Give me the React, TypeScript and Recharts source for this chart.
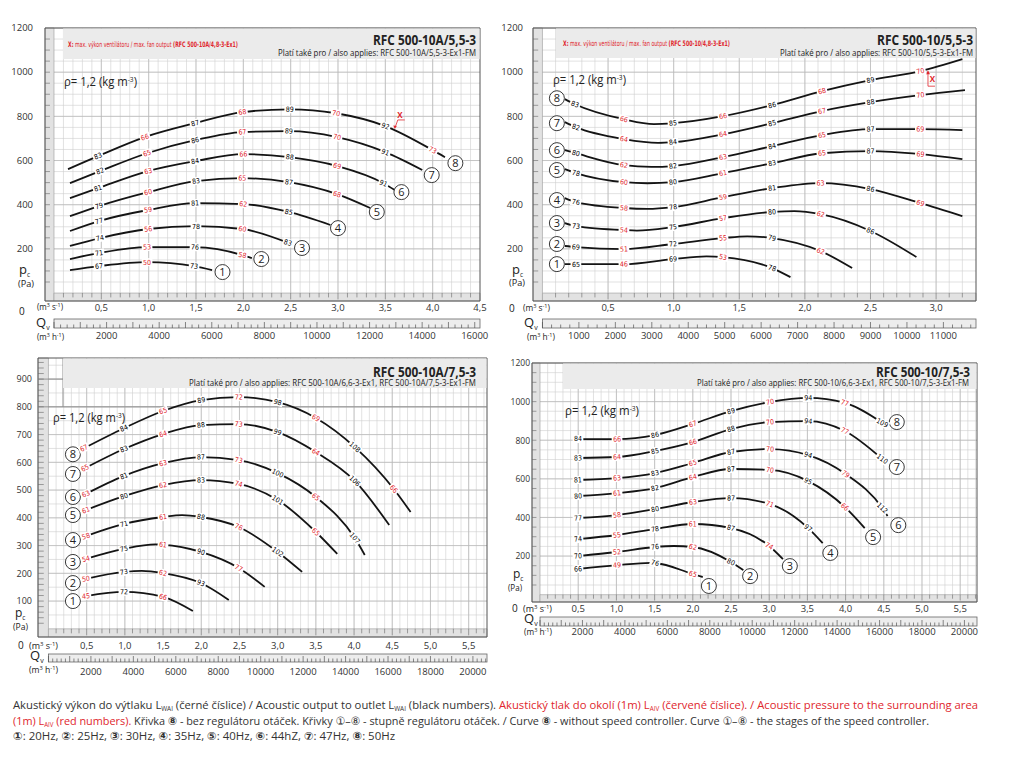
import React from 'react';
import {
  ComposedChart,
  Line,
  XAxis,
  YAxis,
  CartesianGrid,
  ReferenceArea,
  ReferenceLine,
  ReferenceDot,
} from 'recharts';

type Raw = [number, number, string?, string?];
type Pt = { q: number; p: number; t?: string; c?: string };
const r = 'r';

/* ---------------- Panel A : RFC 500-10A/5,5-3 ---------------- */
const xTicksA = [0.5, 1, 1.5, 2, 2.5, 3, 3.5, 4, 4.5];
const yTicksA = [200, 400, 600, 800, 1000, 1200];
const hLabelsA = [2000, 4000, 6000, 8000, 10000, 12000, 14000, 16000];
const a8: Raw[] = [[0.148, 561], [0.465, 620, '83'], [0.96, 706, '66', r], [1.49, 769, '87'], [1.99, 819, '68', r], [2.49, 832, '89'], [2.98, 814, '70', r], [3.5, 756, '92'], [4.0, 647, '73', r], [4.13, 615]];
const a7: Raw[] = [[0.169, 498], [0.486, 552, '82'], [0.983, 633, '65', r], [1.49, 692, '86'], [1.99, 729, '67', r], [2.48, 733, '89'], [2.99, 706, '70', r], [3.5, 638, '91'], [3.89, 557]];
const a6: Raw[] = [[0.169, 430], [0.465, 475, '81'], [0.994, 552, '63', r], [1.49, 597, '84'], [2.0, 629, '66', r], [2.49, 615, '88'], [2.99, 575, '69', r], [3.48, 497, '91'], [3.6, 466]];
const a5: Raw[] = [[0.169, 348], [0.476, 394, '79'], [0.994, 457, '60', r], [1.5, 507, '83'], [1.99, 520, '65', r], [2.48, 502, '87'], [2.99, 448, '68', r], [3.34, 385]];
const a4: Raw[] = [[0.169, 281], [0.476, 326, '77'], [0.994, 376, '59', r], [1.49, 407, '81'], [2.0, 403, '62', r], [2.48, 367, '85'], [2.92, 308]];
const a3: Raw[] = [[0.169, 213], [0.486, 249, '74'], [0.994, 290, '56', r], [1.5, 303, '78'], [1.99, 290, '60', r], [2.47, 228, '83']];
const a2: Raw[] = [[0.169, 154], [0.476, 181, '71'], [0.983, 208, '53', r], [1.49, 208, '76'], [1.99, 172, '58', r], [2.09, 158]];
const a1: Raw[] = [[0.169, 104], [0.476, 122, '67'], [0.983, 140, '50', r], [1.48, 122, '73'], [1.67, 104]];
const circlesA: [string, number, number][] = [['8', 4.24, 588], ['7', 3.99, 534], ['6', 3.67, 457], ['5', 3.41, 367], ['4', 3.0, 294], ['3', 2.62, 204], ['2', 2.19, 154], ['1', 1.78, 95]];
const xMarkA: [number, number] = [3.6, 743];

/* ---------------- Panel B : RFC 500-10/5,5-3 ---------------- */
const xTicksB = [0.5, 1, 1.5, 2, 2.5, 3];
const yTicksB = [200, 400, 600, 800, 1000, 1200];
const hLabelsB = [1000, 2000, 3000, 4000, 5000, 6000, 7000, 8000, 9000, 10000, 11000];
const b8: Raw[] = [[0.171, 878], [0.248, 855, '83'], [0.621, 787, '66', r], [0.85, 765], [0.995, 769, '85'], [1.376, 801, '66', r], [1.75, 851, '86'], [2.13, 914, '68', r], [2.5, 964, '89'], [2.88, 1005, '70', r], [3.2, 1059]];
const b7: Raw[] = [[0.171, 774], [0.255, 751, '82'], [0.621, 697, '64', r], [0.88, 680], [0.995, 683, '84'], [1.376, 719, '64', r], [1.75, 769, '85'], [2.13, 824, '67', r], [2.5, 864, '88'], [2.88, 896, '70', r], [3.22, 919]];
const b6: Raw[] = [[0.171, 647], [0.255, 633, '80'], [0.621, 579, '62', r], [0.83, 571], [0.995, 575, '82'], [1.376, 615, '63', r], [1.75, 665, '84'], [2.13, 715, '65', r], [2.5, 742, '87'], [2.88, 742, '69', r], [3.2, 738]];
const b5: Raw[] = [[0.171, 561], [0.255, 543, '78'], [0.621, 502, '60', r], [0.8, 497], [0.995, 502, '80'], [1.376, 543, '61', r], [1.75, 588, '83'], [2.13, 633, '65', r], [2.5, 643, '87'], [2.88, 629, '69', r], [3.2, 606]];
const b4: Raw[] = [[0.171, 430], [0.255, 412, '76'], [0.621, 385, '58', r], [0.8, 381], [0.995, 389, '78'], [1.376, 434, '59', r], [1.75, 475, '81'], [2.12, 498, '63', r], [2.5, 471, '86'], [2.88, 407, '69', r], [3.2, 348]];
const b3: Raw[] = [[0.171, 317], [0.255, 303, '73'], [0.621, 285, '54', r], [0.72, 283], [0.995, 299, '75'], [1.376, 339, '57', r], [1.75, 367, '80'], [1.92, 371], [2.12, 357, '62', r], [2.5, 281, '86'], [2.85, 163]];
const b2: Raw[] = [[0.171, 213], [0.255, 208, '69'], [0.621, 199, '51', r], [0.995, 222, '72'], [1.376, 249, '55', r], [1.56, 257], [1.75, 249, '79'], [2.12, 190, '62', r], [2.36, 113]];
const b1: Raw[] = [[0.171, 131], [0.255, 131, '65'], [0.621, 131, '46', r], [0.995, 154, '69'], [1.25, 166], [1.376, 163, '53', r], [1.75, 113, '78'], [1.89, 72]];
const circlesB: [string, number, number][] = [['8', 0.11, 882], ['7', 0.11, 769], ['6', 0.11, 647], ['5', 0.11, 557], ['4', 0.11, 421], ['3', 0.11, 317], ['2', 0.11, 222], ['1', 0.11, 131]];
const xMarkB: [number, number] = [2.938, 1009];

/* ---------------- Panel C : RFC 500-10A/7,5-3 ---------------- */
const xTicksC = [0.5, 1, 1.5, 2, 2.5, 3, 3.5, 4, 4.5, 5, 5.5];
const yTicksC = [100, 200, 300, 400, 500, 600, 700, 800, 900];
const hLabelsC = [2000, 4000, 6000, 8000, 10000, 12000, 14000, 16000, 18000, 20000];
const c8: Raw[] = [[0.465, 651, '67', r], [0.988, 723, '84'], [1.5, 785, '65', r], [2.0, 824, '89'], [2.49, 835, '72', r], [3.0, 817, '98'], [3.5, 760, '69', r], [4.01, 655, '108'], [4.52, 504, '66', r], [4.74, 421]];
const c7: Raw[] = [[0.478, 579, '65', r], [0.988, 648, '83'], [1.499, 702, '64', r], [1.996, 734, '88'], [2.49, 738, '73', r], [3.0, 709, '99'], [3.5, 637, '64', r], [4.01, 533, '106'], [4.46, 374]];
const c6: Raw[] = [[0.49, 486, '63', r], [0.988, 551, '81'], [1.499, 597, '63', r], [1.996, 619, '87'], [2.49, 608, '73', r], [3.0, 561, '100'], [3.5, 475, '65', r], [4.01, 327, '107'], [4.14, 266]];
const c5: Raw[] = [[0.49, 428, '61', r], [0.988, 478, '80'], [1.499, 518, '62', r], [1.996, 536, '83'], [2.49, 522, '74', r], [3.0, 464, '101'], [3.5, 349, '65', r], [3.78, 270]];
const c4: Raw[] = [[0.49, 334, '58', r], [0.988, 378, '71'], [1.499, 403, '61', r], [1.75, 410], [1.996, 403, '88'], [2.49, 367, '76', r], [3.0, 277, '102'], [3.32, 205]];
const c3: Raw[] = [[0.49, 252, '54', r], [0.988, 288, '75'], [1.4, 304], [1.499, 303, '61', r], [1.996, 277, '90'], [2.49, 219, '77', r], [2.83, 151]];
const c2: Raw[] = [[0.49, 180, '50', r], [0.988, 205, '73'], [1.22, 209], [1.499, 201, '62', r], [1.996, 165, '93'], [2.36, 104]];
const c1: Raw[] = [[0.49, 118, '45', r], [0.988, 133, '72'], [1.499, 115, '66', r], [1.89, 64]];
const circlesC: [string, number, number][] = [['8', 0.32, 629], ['7', 0.32, 558], ['6', 0.32, 475], ['5', 0.32, 410], ['4', 0.32, 320], ['3', 0.32, 241], ['2', 0.32, 165], ['1', 0.32, 100]];

/* ---------------- Panel D : RFC 500-10/7,5-3 ---------------- */
const xTicksD = [0.5, 1, 1.5, 2, 2.5, 3, 3.5, 4, 4.5, 5, 5.5];
const yTicksD = [200, 400, 600, 800, 1000, 1200];
const hLabelsD = [2000, 4000, 6000, 8000, 10000, 12000, 14000, 16000, 18000, 20000];
const d8: Raw[] = [[0.497, 806, '84'], [1.008, 806, '66', r], [1.505, 827, '86'], [2.0, 884, '67', r], [2.5, 951, '89'], [3.01, 998, '70', r], [3.51, 1019, '94'], [3.99, 993, '77', r], [4.48, 890, '109']];
const d7: Raw[] = [[0.497, 708, '83'], [1.008, 713, '64', r], [1.505, 744, '85'], [2.0, 790, '66', r], [2.5, 858, '88'], [3.01, 894, '70', r], [3.51, 899, '94'], [3.99, 848, '77', r], [4.48, 703, '110']];
const d6: Raw[] = [[0.497, 594, '81'], [1.008, 604, '63', r], [1.505, 630, '83'], [2.0, 682, '65', r], [2.5, 739, '87'], [3.01, 754, '70', r], [3.51, 723, '94'], [4.0, 625, '79', r], [4.48, 449, '112'], [4.55, 407]];
const d5: Raw[] = [[0.497, 511, '80'], [1.008, 526, '61', r], [1.505, 552, '82'], [2.0, 609, '64', r], [2.5, 651, '87'], [3.01, 646, '70', r], [3.51, 588, '95'], [3.99, 454, '66', r], [4.25, 345]];
const d4: Raw[] = [[0.497, 397, '77'], [1.008, 412, '58', r], [1.505, 443, '80'], [2.0, 480, '63', r], [2.5, 500, '87'], [3.01, 469, '71', r], [3.51, 345, '97'], [3.7, 267]];
const d3: Raw[] = [[0.497, 288, '74'], [1.008, 309, '55', r], [1.505, 340, '78'], [2.0, 366, '61', r], [2.5, 345, '87'], [3.0, 252, '74', r], [3.18, 184]];
const d2: Raw[] = [[0.497, 200, '70'], [1.008, 221, '52', r], [1.505, 247, '76'], [1.75, 252], [2.0, 247, '62', r], [2.5, 169, '80'], [2.66, 127]];
const d1: Raw[] = [[0.497, 133, '66'], [1.008, 153, '49', r], [1.45, 165], [1.505, 164, '76'], [2.0, 107, '65', r], [2.13, 91]];
const circlesD: [string, number, number][] = [['8', 4.67, 894], ['7', 4.67, 661], ['6', 4.69, 360], ['5', 4.36, 298], ['4', 3.8, 216], ['3', 3.27, 148], ['2', 2.75, 96], ['1', 2.21, 45]];

/* ---------------- texts ---------------- */
const titles = ['RFC 500-10A/5,5-3', 'RFC 500-10/5,5-3', 'RFC 500-10A/7,5-3', 'RFC 500-10/7,5-3'];
const subtitles = [
  'Platí také pro / also applies: RFC 500-10A/5,5-3-Ex1-FM',
  'Platí také pro / also applies: RFC 500-10/5,5-3-Ex1-FM',
  'Platí také pro / also applies: RFC 500-10A/6,6-3-Ex1, RFC 500-10A/7,5-3-Ex1-FM',
  'Platí také pro / also applies: RFC 500-10/6,6-3-Ex1, RFC 500-10/7,5-3-Ex1-FM',
];
const notesModel = ['(RFC 500-10A/4,8-3-Ex1)', '(RFC 500-10/4,8-3-Ex1)'];

/* ---------------- layout (positions, not data) ---------------- */
const RED = '#e0262d';
const INK = '#141414';
const FONT = '"Open Sans", "DejaVu Sans", sans-serif';
const NARROW = '"Liberation Sans Narrow", "DejaVu Sans Condensed", "Open Sans", sans-serif';

type Lay = {
  left: number; top: number; w: number; h: number; mTop: number;
  plotL: number; plotR: number; plotT: number; plotB: number;
  xmin: number; xmax: number; ymin: number; ymax: number;
  mainH: number; hH: number; mainDy: number; hsTop: number; hsH: number; hlDy: number;
  hStep: number; hMajor: number; gridY: number; stripY: number; yDx: number; yFs: number;
};

const LA: Lay = { left: 0, top: 0, w: 500, h: 347, mTop: 28, plotL: 45, plotR: 480, plotT: 28, plotB: 301, xmin: -0.095, xmax: 4.5, ymin: -36, ymax: 1200, mainH: 12, hH: 34, mainDy: 9.5, hsTop: 6, hsH: 9, hlDy: 26, hStep: 250, hMajor: 1000, gridY: 50, stripY: 50, yDx: -12, yFs: 9.5 };
const LB: Lay = { left: 490, top: 0, w: 506, h: 347, mTop: 28, plotL: 533, plotR: 976, plotT: 28, plotB: 301, xmin: -0.072, xmax: 3.304, ymin: -36, ymax: 1200, mainH: 12, hH: 34, mainDy: 9.5, hsTop: 6, hsH: 9, hlDy: 26, hStep: 250, hMajor: 1000, gridY: 50, stripY: 50, yDx: -10, yFs: 9.5 };
const LC: Lay = { left: 0, top: 330, w: 507, h: 349, mTop: 28, plotL: 38, plotR: 487, plotT: 358, plotB: 637, xmin: -0.137, xmax: 5.74, ymin: -29.5, ymax: 976, mainH: 12, hH: 30, mainDy: 11.5, hsTop: 5, hsH: 8, hlDy: 26, hStep: 200, hMajor: 1000, gridY: 50, stripY: 20, yDx: -6, yFs: 9 };
const LD: Lay = { left: 490, top: 335, w: 507, h: 309, mTop: 28, plotL: 532, plotR: 977, plotT: 363, plotB: 602, xmin: -0.105, xmax: 5.72, ymin: -38, ymax: 1200, mainH: 12, hH: 30, mainDy: 9.5, hsTop: 3, hsH: 9, hlDy: 21, hStep: 200, hMajor: 1000, gridY: 50, stripY: 50, yDx: -2, yFs: 8.5 };

const toPts = (raw: Raw[]): Pt[] => raw.map(([q, p, t, c]) => ({ q, p, t, c }));
const range = (a: number, b: number, s: number) => {
  const out: number[] = [];
  for (let i = 0; a + i * s <= b + 1e-9; i++) out.push(Math.round((a + i * s) * 1000) / 1000);
  return out;
};
const fmtQ = (v: number) => v.toFixed(1).replace('.', ',');

function mkLabel(pts: Pt[], kx: number, ky: number) {
  return (props: any) => {
    const i: number = props.index;
    const pt = pts[i];
    if (!pt || !pt.t) return null;
    const x = props.x ?? props.viewBox?.x;
    const y = props.y ?? props.viewBox?.y;
    if (x == null || y == null) return null;
    const a = pts[Math.max(0, i - 1)];
    const b = pts[Math.min(pts.length - 1, i + 1)];
    const ang = (Math.atan2(-(b.p - a.p) * ky, (b.q - a.q) * kx) * 180) / Math.PI;
    const w = pt.t.length * 3.6 + 3.5;
    return (
      <g key={`lb${i}`} transform={`translate(${x},${y}) rotate(${ang.toFixed(1)})`}>
        <rect x={-w / 2} y={-4} width={w} height={8} fill="#fff" />
        <text x={0} y={2.4} textAnchor="middle" fontSize={7} fontFamily={NARROW} fill={pt.c === 'r' ? RED : '#000'} stroke="none">
          {pt.t}
        </text>
      </g>
    );
  };
}

const circleShape = (num: string) => (props: any) => (
  <g>
    <circle cx={props.cx} cy={props.cy} r={7.5} fill="#fff" stroke="#222" strokeWidth={0.9} />
    <text x={props.cx} y={props.cy + 4} textAnchor="middle" fontSize={11} fontFamily={FONT} fill="#222">
      {num}
    </text>
  </g>
);

const xShapeA = (props: any) => {
  const { cx, cy } = props;
  return (
    <g>
      <text x={cx + 5} y={cy - 11} textAnchor="middle" fontSize={8} fontWeight="bold" fontFamily={FONT} fill={RED}>X</text>
      <path d={`M${cx + 10},${cy - 9} L${cx + 3},${cy - 9} L${cx + 0.5},${cy - 2}`} fill="none" stroke={RED} strokeWidth={0.8} />
      <path d={`M${cx},${cy} L${cx - 1.5},${cy - 3.5} L${cx + 2},${cy - 3}Z`} fill={RED} />
    </g>
  );
};
const xShapeB = (props: any) => {
  const { cx, cy } = props;
  return (
    <g>
      <text x={cx + 4.5} y={cy + 12} textAnchor="middle" fontSize={8} fontWeight="bold" fontFamily={FONT} fill={RED}>X</text>
      <path d={`M${cx},${cy + 2} L${cx},${cy + 16} L${cx + 7},${cy + 16}`} fill="none" stroke={RED} strokeWidth={0.8} />
      <path d={`M${cx},${cy} L${cx - 2},${cy + 4} L${cx + 2},${cy + 4}Z`} fill={RED} />
    </g>
  );
};

type PanelProps = {
  L: Lay;
  curves: Raw[][];
  circles: [string, number, number][];
  xTicks: number[];
  yTicks: number[];
  hLabels: number[];
  xMark?: [number, number];
  xShape?: (p: any) => any;
  boxC?: boolean;
};

function Panel({ L, curves, circles, xTicks, yTicks, hLabels, xMark, xShape, boxC }: PanelProps) {
  const kx = (L.plotR - L.plotL) / (L.xmax - L.xmin);
  const ky = (L.plotB - L.plotT) / (L.ymax - L.ymin);
  const vMinor = range(0.1, L.xmax - 0.01, 0.1);
  const vMajor = range(0.5, L.xmax - 0.01, 0.5);
  const hMinor = range(L.gridY, L.ymax - 1, L.gridY);
  const hMax = Math.floor((L.xmax * 3600) / L.hStep) * L.hStep;
  const hTicks = range(0, hMax, L.hStep);
  const leftTicks = range(L.stripY, L.ymax - 1, L.stripY);
  const botTicks = vMinor;
  const ptsList = curves.map(toPts);
  const yW = L.plotL - L.left;
  const mRight = L.left + L.w - L.plotR;
  // invisible helper series so the m³/h axis is bound to something
  const hHelper = [{ h: 0, p: L.ymin }, { h: hMax, p: L.ymin }];
  const boxX = 0.19;

  return (
    <div style={{ position: 'absolute', left: L.left, top: L.top }}>
      <ComposedChart width={L.w} height={L.h} margin={{ top: L.mTop, right: mRight, bottom: 0, left: 0 }}>
        <CartesianGrid xAxisId="a" verticalValues={vMinor} horizontalValues={hMinor} stroke="#cfcfcf" strokeWidth={0.6} />
        <CartesianGrid xAxisId="a" verticalValues={vMajor} horizontalValues={yTicks} stroke="#b8b8b8" strokeWidth={0.7} />
        <XAxis
          xAxisId="a"
          type="number"
          dataKey="q"
          domain={[L.xmin, L.xmax]}
          allowDataOverflow
          ticks={xTicks}
          interval={0}
          height={L.mainH}
          tickSize={0}
          tickMargin={0}
          axisLine={false}
          tickLine={false}
          tick={(p: any) => (
            <text x={p.x} y={p.y + L.mainDy} textAnchor="middle" fontSize={9.5} fontFamily={FONT} fill="#333">
              {fmtQ(p.payload.value)}
            </text>
          )}
        />
        <XAxis
          xAxisId="b"
          type="number"
          dataKey="h"
          domain={[L.xmin * 3600, L.xmax * 3600]}
          allowDataOverflow
          ticks={hTicks}
          interval={0}
          height={L.hH}
          tickSize={0}
          tickMargin={0}
          axisLine={false}
          tickLine={false}
          tick={(p: any) => {
            const v = p.payload.value;
            const yb = p.y + L.hsTop + L.hsH;
            const major = v % L.hMajor === 0;
            return (
              <g>
                <line x1={p.x} x2={p.x} y1={yb} y2={yb - (major ? 6 : 3.5)} stroke="#555" strokeWidth={0.7} />
                {hLabels.includes(v) ? (
                  <text x={p.x} y={p.y + L.hlDy} textAnchor="middle" fontSize={9.5} fontFamily={FONT} fill="#333">
                    {v}
                  </text>
                ) : null}
              </g>
            );
          }}
        />
        <YAxis
          type="number"
          domain={[L.ymin, L.ymax]}
          allowDataOverflow
          ticks={yTicks}
          interval={0}
          width={yW}
          tickSize={0}
          tickMargin={0}
          axisLine={false}
          tickLine={false}
          tick={(p: any) => (
            <text x={p.x + L.yDx} y={p.y + 3.3} textAnchor="end" fontSize={L.yFs} fontFamily={FONT} fill="#333">
              {p.payload.value}
            </text>
          )}
        />
        {boxC ? <ReferenceLine xAxisId="a" y={800} stroke="#8a8a8a" strokeWidth={0.9} /> : null}
        {boxC ? <ReferenceLine xAxisId="a" segment={[{ x: boxX, y: 800 }, { x: boxX, y: L.ymax }]} stroke="#8a8a8a" strokeWidth={0.9} /> : null}
        {boxC ? <ReferenceLine xAxisId="a" segment={[{ x: L.xmin, y: 900 }, { x: boxX, y: 900 }]} stroke="#8a8a8a" strokeWidth={0.9} /> : null}
        <ReferenceArea xAxisId="a" x1={L.xmin} x2={0} y1={L.ymin} y2={L.ymax} fill="#e2e2e2" fillOpacity={1} stroke="#9a9a9a" strokeWidth={0.6} />
        <ReferenceArea xAxisId="a" x1={0} x2={L.xmax} y1={L.ymin} y2={0} fill="#e2e2e2" fillOpacity={1} stroke="#9a9a9a" strokeWidth={0.6} />
        {leftTicks.map((v) => (
          <ReferenceLine key={`lt${v}`} xAxisId="a" segment={[{ x: L.xmin, y: v }, { x: L.xmin * 0.45, y: v }]} stroke="#666" strokeWidth={0.6} />
        ))}
        {botTicks.map((v) => (
          <ReferenceLine
            key={`bt${v}`}
            xAxisId="a"
            segment={[{ x: v, y: 0 }, { x: v, y: L.ymin * (Math.abs((v * 2) % 1) < 0.01 ? 0.8 : 0.55) }]}
            stroke="#666"
            strokeWidth={0.6}
          />
        ))}
        <ReferenceArea xAxisId="a" x1={L.xmin} x2={L.xmax} y1={L.ymin} y2={L.ymax} fill="none" stroke="#555" strokeWidth={1} />
        <Line xAxisId="b" data={hHelper} dataKey="p" stroke="none" strokeWidth={0} dot={false} activeDot={false} isAnimationActive={false} legendType="none" />
        {ptsList.map((pts, i) => (
          <Line
            key={`c${i}`}
            xAxisId="a"
            data={pts}
            dataKey="p"
            type="monotone"
            stroke={INK}
            strokeWidth={1.8}
            dot={false}
            activeDot={false}
            isAnimationActive={false}
            label={mkLabel(pts, kx, ky)}
          />
        ))}
        {circles.map(([n, q, p]) => (
          <ReferenceDot key={`o${n}`} xAxisId="a" x={q} y={p} r={7.5} shape={circleShape(n)} />
        ))}
        {xMark && xShape ? <ReferenceDot xAxisId="a" x={xMark[0]} y={xMark[1]} r={2} shape={xShape} /> : null}
      </ComposedChart>
    </div>
  );
}

/* ---------- helpers for overlay text ---------- */
const T = ({ x, y, w, fs, children, bold, fill, family }: any) => (
  <text
    x={x}
    y={y}
    fontSize={fs}
    fontWeight={bold ? 'bold' : 'normal'}
    fill={fill || '#222'}
    fontFamily={family || FONT}
    textLength={w}
    lengthAdjust="spacingAndGlyphs"
  >
    {children}
  </text>
);

const Rho = ({ x, y, w }: any) => (
  <T x={x} y={y} w={w} fs={12}>
    ρ= 1,2 (kg m<tspan dy={-4} fontSize={7}>-3</tspan>
    <tspan dy={4}>)</tspan>
  </T>
);

const AxisTexts = ({ zx, zy, ms, q, mh, pc, pa, pfs }: any) => (
  <g fontFamily={FONT} fill="#222">
    <text x={zx} y={zy} fontSize={10}>0</text>
    <T x={ms[0]} y={ms[1]} w={ms[2]} fs={9}>
      (m<tspan dy={-3} fontSize={6}>3</tspan>
      <tspan dy={3}> s</tspan>
      <tspan dy={-3} fontSize={6}>-1</tspan>
      <tspan dy={3}>)</tspan>
    </T>
    <text x={q[0]} y={q[1]} fontSize={13}>
      Q<tspan dy={3} fontSize={7}>v</tspan>
    </text>
    <T x={mh[0]} y={mh[1]} w={mh[2]} fs={9}>
      (m<tspan dy={-3} fontSize={6}>3</tspan>
      <tspan dy={3}> h</tspan>
      <tspan dy={-3} fontSize={6}>-1</tspan>
      <tspan dy={3}>)</tspan>
    </T>
    <text x={pc[0]} y={pc[1]} fontSize={pfs || 13}>
      p<tspan dy={2.5} fontSize={6.5}>c</tspan>
    </text>
    <T x={pa[0]} y={pa[1]} w={pa[2]} fs={8.5}>(Pa)</T>
  </g>
);

function stripRect(L: Lay) {
  const kx = (L.plotR - L.plotL) / (L.xmax - L.xmin);
  const x0 = L.plotL + (0 - L.xmin) * kx;
  const y0 = L.plotB + L.mainH + L.hsTop;
  return <rect x={x0} y={y0} width={L.plotR - x0} height={L.hsH} fill="#ededed" stroke="#666" strokeWidth={0.8} />;
}

function band(L: Lay, x1: number, y2: number) {
  return <rect x={x1} y={L.plotT + 0.5} width={L.plotR - 0.5 - x1} height={y2 - L.plotT - 0.5} fill="#ebebeb" />;
}

export default function App() {
  return (
    <div style={{ position: 'absolute', left: 0, top: 0, width: 1024, height: 768, background: '#fff', overflow: 'hidden' }}>
      <svg width={1024} height={768} style={{ position: 'absolute', left: 0, top: 0 }}>
        {stripRect(LA)}
        {stripRect(LB)}
        {stripRect(LC)}
        {stripRect(LD)}
      </svg>

      <Panel L={LA} curves={[a1, a2, a3, a4, a5, a6, a7, a8]} circles={circlesA} xTicks={xTicksA} yTicks={yTicksA} hLabels={hLabelsA} xMark={xMarkA} xShape={xShapeA} />
      <Panel L={LB} curves={[b1, b2, b3, b4, b5, b6, b7, b8]} circles={circlesB} xTicks={xTicksB} yTicks={yTicksB} hLabels={hLabelsB} xMark={xMarkB} xShape={xShapeB} />
      <Panel L={LC} curves={[c1, c2, c3, c4, c5, c6, c7, c8]} circles={circlesC} xTicks={xTicksC} yTicks={yTicksC} hLabels={hLabelsC} boxC />
      <Panel L={LD} curves={[d1, d2, d3, d4, d5, d6, d7, d8]} circles={circlesD} xTicks={xTicksD} yTicks={yTicksD} hLabels={hLabelsD} />

      <svg width={1024} height={768} style={{ position: 'absolute', left: 0, top: 0, pointerEvents: 'none' }}>
        {band(LA, 63, 59)}
        {band(LB, 556, 58)}
        {band(LC, 63, 388)}
        {band(LD, 563, 389)}

        <T x={373} y={44.5} w={103} fs={14} bold>{titles[0]}</T>
        <T x={278} y={55.5} w={198} fs={9.5}>{subtitles[0]}</T>
        <T x={68} y={47} w={170} fs={7.5} fill={RED} family={NARROW}>
          <tspan fontWeight="bold">X:</tspan> max. výkon ventilátoru / max. fan output <tspan fontWeight="bold">{notesModel[0]}</tspan>
        </T>

        <T x={877} y={44.5} w={96} fs={14} bold>{titles[1]}</T>
        <T x={780} y={55.5} w={193} fs={9.5}>{subtitles[1]}</T>
        <T x={563} y={45.5} w={167} fs={7.5} fill={RED} family={NARROW}>
          <tspan fontWeight="bold">X:</tspan> max. výkon ventilátoru / max. fan output <tspan fontWeight="bold">{notesModel[1]}</tspan>
        </T>

        <T x={373} y={377} w={103} fs={14} bold>{titles[2]}</T>
        <T x={189} y={385.5} w={287} fs={9.5}>{subtitles[2]}</T>

        <T x={876} y={377} w={94} fs={14} bold>{titles[3]}</T>
        <T x={697} y={386} w={272} fs={9.5}>{subtitles[3]}</T>

        <Rho x={64} y={86} w={73} />
        <Rho x={553} y={84} w={73} />
        <Rho x={53} y={422} w={72} />
        <Rho x={565} y={415} w={74} />

        <AxisTexts zx={19} zy={314.5} ms={[37, 310, 26]} q={[36, 327]} mh={[37, 339.5, 27]} pc={[19, 274]} pa={[18, 286.5, 16]} />
        <AxisTexts zx={509} zy={311.5} ms={[523, 311, 27]} q={[524, 327]} mh={[527, 339.5, 28]} pc={[512, 274]} pa={[509, 285.5, 16]} />
        <AxisTexts zx={18} zy={648.5} ms={[29, 648.5, 29]} q={[30, 660]} mh={[29, 673, 29]} pc={[15, 617]} pa={[13, 629.5, 15]} pfs={12} />
        <AxisTexts zx={512} zy={611.5} ms={[523, 611.5, 29]} q={[524, 623]} mh={[524, 635, 28]} pc={[513, 578]} pa={[508, 590.5, 14]} pfs={12} />

        <g fontFamily={FONT}>
          <text x={13} y={709} fontSize={11.5} fill="#333" textLength={965} lengthAdjust="spacingAndGlyphs">
            Akustický výkon do výtlaku L<tspan dy={2} fontSize={6.5}>WAI</tspan>
            <tspan dy={-2}> (černé číslice) / Acoustic output to outlet L</tspan>
            <tspan dy={2} fontSize={6.5}>WAI</tspan>
            <tspan dy={-2}> (black numbers). </tspan>
            <tspan fill={RED}>Akustický tlak do okolí (1m) L</tspan>
            <tspan dy={2} fontSize={6.5} fill={RED}>AIV</tspan>
            <tspan dy={-2} fill={RED}> (červené číslice). / Acoustic pressure to the surrounding area</tspan>
          </text>
          <text x={13} y={724.5} fontSize={11.5} fill="#333" textLength={916} lengthAdjust="spacingAndGlyphs">
            <tspan fill={RED}>(1m) L</tspan>
            <tspan dy={2} fontSize={6.5} fill={RED}>AIV</tspan>
            <tspan dy={-2} fill={RED}> (red numbers).</tspan>
            <tspan> Křivka </tspan>
            <tspan fontWeight="bold">⑧</tspan>
            <tspan> - bez regulátoru otáček. Křivky ①–⑧ - stupně regulátoru otáček. / Curve </tspan>
            <tspan fontWeight="bold">⑧</tspan>
            <tspan> - without speed controller. Curve ①–⑧ - the stages of the speed controller.</tspan>
          </text>
          <text x={13} y={740} fontSize={11.5} fill="#333" textLength={382} lengthAdjust="spacingAndGlyphs">
            <tspan fontWeight="bold">①</tspan>: 20Hz, <tspan fontWeight="bold">②</tspan>: 25Hz, <tspan fontWeight="bold">③</tspan>: 30Hz,{' '}
            <tspan fontWeight="bold">④</tspan>: 35Hz, <tspan fontWeight="bold">⑤</tspan>: 40Hz, <tspan fontWeight="bold">⑥</tspan>: 44hZ,{' '}
            <tspan fontWeight="bold">⑦</tspan>: 47Hz, <tspan fontWeight="bold">⑧</tspan>: 50Hz
          </text>
        </g>
      </svg>
    </div>
  );
}
